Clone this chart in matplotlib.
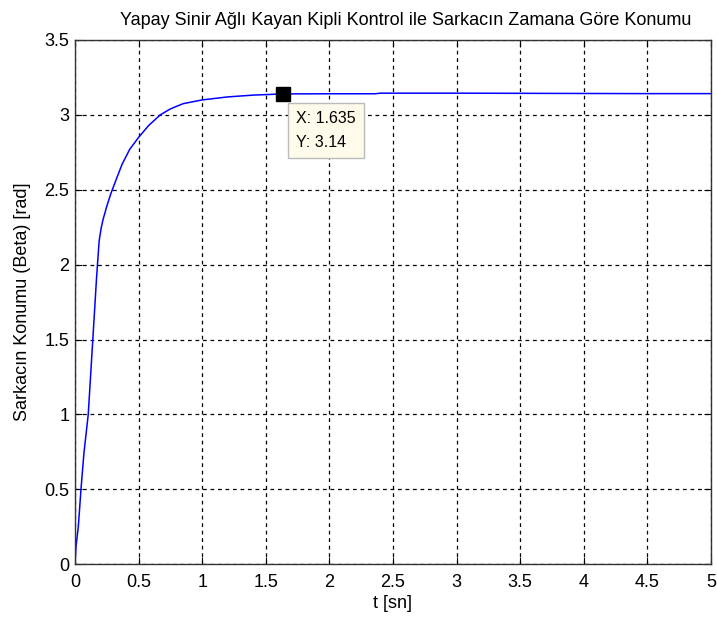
import numpy as np
import matplotlib.pyplot as plt

plt.rcParams['font.family'] = ['Liberation Sans', 'DejaVu Sans']

# curve
t = [0.0, 0.008, 0.026, 0.047, 0.07, 0.104, 0.14, 0.17, 0.19, 0.205, 0.22, 0.25,
     0.28, 0.32, 0.37, 0.43, 0.50, 0.58, 0.67, 0.75, 0.85, 1.0, 1.2, 1.4, 1.635,
     2.0, 2.36, 2.40, 3.0, 3.5, 4.0, 4.5, 5.0]
beta = [0.0, 0.12, 0.25, 0.5, 0.74, 1.0, 1.5, 1.92, 2.16, 2.24, 2.30, 2.39,
        2.47, 2.56, 2.67, 2.77, 2.85, 2.93, 3.0, 3.04, 3.075, 3.10, 3.12, 3.132, 3.14,
        3.141, 3.141, 3.145, 3.145, 3.144, 3.143, 3.142, 3.142]

tip_x = 1.635
tip_y = 3.14

title = 'Yapay Sinir Ağlı Kayan Kipli Kontrol ile Sarkacın Zamana Göre Konumu'
xlabel = 't [sn]'
ylabel = 'Sarkacın Konumu (Beta) [rad]'
xticks = np.arange(0, 5.01, 0.5)
yticks = np.arange(0, 3.51, 0.5)

fig = plt.figure(figsize=(7.17, 6.21), dpi=100)
ax = fig.add_axes([0.1046, 0.0913, 0.887, 0.8443])

ax.plot(t, beta, color='#0000ff', lw=1.1)
ax.plot(tip_x, tip_y, 's', color='black', ms=9.4)

ax.set_xlim(0, 5)
ax.set_ylim(0, 3.5)
ax.set_xticks(xticks)
ax.set_yticks(yticks)
ax.set_xticklabels(['0', '0.5', '1', '1.5', '2', '2.5', '3', '3.5', '4', '4.5', '5'])
ax.set_yticklabels(['0', '0.5', '1', '1.5', '2', '2.5', '3', '3.5'])
ax.tick_params(direction='in', top=True, right=True, labelsize=13, length=5)
ax.tick_params(axis='x', pad=7)
ax.tick_params(axis='y', pad=4)
ax.grid(True, color='black', linestyle=(0, (3, 3)), lw=0.9)
for s in ax.spines.values():
    s.set_linewidth(1.0)
    s.set_color('#333333')

ax.set_title(title, fontsize=13, pad=11, x=0.52)
ax.set_xlabel(xlabel, fontsize=13, labelpad=3)
ax.set_ylabel(ylabel, fontsize=13, labelpad=10)

ax.annotate('X: 1.635\nY: 3.14', xy=(tip_x, tip_y), xytext=(9.5, -12),
            textcoords='offset points', ha='left', va='top', fontsize=11.5,
            linespacing=1.75,
            bbox=dict(boxstyle='square,pad=0.5', fc='#fffbea', ec='#bbbbbb', lw=1))

fig.savefig('out.png', dpi=100)
